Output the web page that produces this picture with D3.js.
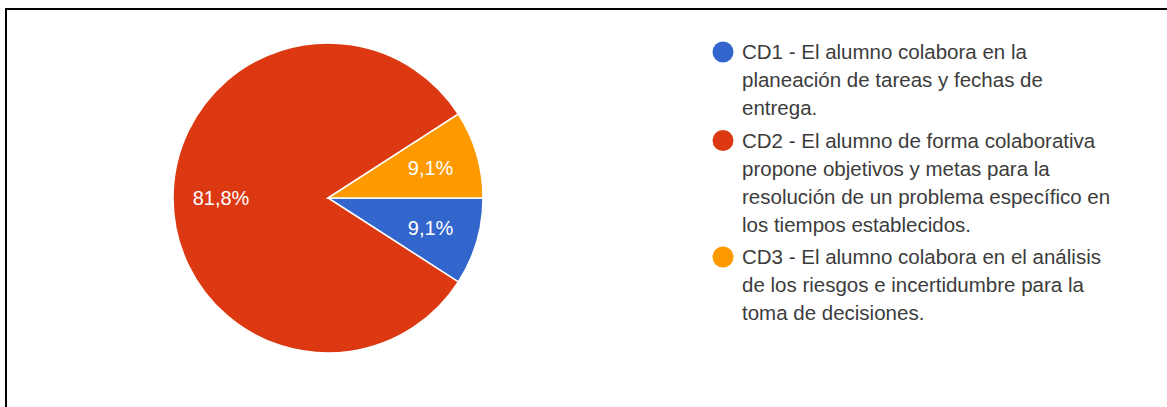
<!DOCTYPE html>
<html>
<head>
<meta charset="utf-8">
<script src="https://cdn.jsdelivr.net/npm/d3@7"></script>
<style>
	html, body { margin: 0; padding: 0; background: #fff; }
	svg { display: block; }
</style>
</head>
<body>
<div id="chart"></div>
<script>
	// Data
	const categories = ["CD1", "CD2", "CD3"];
	const values = [9.1, 81.8, 9.1];
	const pctLabels = ["9,1%", "81,8%", "9,1%"];
	const legendLines = [
		["CD1 - El alumno colabora en la", "planeación de tareas y fechas de", "entrega."],
		["CD2 - El alumno de forma colaborativa", "propone objetivos y metas para la", "resolución de un problema específico en", "los tiempos establecidos."],
		["CD3 - El alumno colabora en el análisis", "de los riesgos e incertidumbre para la", "toma de decisiones."]
	];
	const colors = ["#3366cc", "#dc3912", "#ff9900"];

	const width = 1167, height = 407;
	const CENTER = { x: 328, y: 198 };
	const RADIUS = 155;
	const FONT = "Arial, 'Liberation Sans', sans-serif";

	let svg = d3.select("#chart").append("svg")
		.attr("width", width)
		.attr("height", height)

	// border (top + left only, screenshot is cropped)
	svg.append("line").attr("x1", 6).attr("y1", 9).attr("x2", width).attr("y2", 9)
		.attr("stroke", "#000").attr("stroke-width", 2)
	svg.append("line").attr("x1", 6).attr("y1", 8).attr("x2", 6).attr("y2", height)
		.attr("stroke", "#000").attr("stroke-width", 2)

	let color = d3.scaleOrdinal().domain(categories).range(colors)

	// slices start at 3 o'clock and go clockwise
	let pie = d3.pie()
		.sort(null)
		.value(d => d.value)
		.startAngle(Math.PI / 2)
		.endAngle(Math.PI / 2 + 2 * Math.PI)

	let data = categories.map((c, i) => ({ cat: c, value: values[i], label: pctLabels[i] }))
	let arcs = pie(data)

	let arc = d3.arc().innerRadius(0).outerRadius(RADIUS)
	let labelArc = d3.arc().innerRadius(RADIUS * 0.69).outerRadius(RADIUS * 0.69)

	let g = svg.append("g").attr("transform", `translate(${CENTER.x},${CENTER.y})`)

	g.selectAll("path")
		.data(arcs)
		.enter().append("path")
		.attr("d", arc)
		.attr("fill", d => color(d.data.cat))
		.attr("stroke", "#fff")
		.attr("stroke-width", 1.5)

	g.selectAll("text")
		.data(arcs)
		.enter().append("text")
		.attr("transform", d => `translate(${labelArc.centroid(d)})`)
		.attr("text-anchor", "middle")
		.attr("dy", "0.35em")
		.attr("fill", "#fff")
		.style("font-family", FONT)
		.style("font-size", "20px")
		.text(d => d.data.label)

	// legend
	const LINE_H = 28, ITEM_GAP = 4.5;
	let legend = svg.append("g").attr("transform", "translate(723,52)")
	let y = 0;
	legendLines.forEach((lines, i) => {
		let item = legend.append("g").attr("transform", `translate(0,${y})`)
		item.append("circle")
			.attr("r", 10.5)
			.attr("fill", color(categories[i]))
		let t = item.append("text")
			.attr("fill", "#3c3c3c")
			.style("font-family", FONT)
			.style("font-size", "20.5px")
		lines.forEach((ln, j) => {
			t.append("tspan").attr("x", 19).attr("y", j * LINE_H).attr("dy", "0.35em").text(ln)
		})
		y += lines.length * LINE_H + ITEM_GAP
	})
</script>
</body>
</html>
